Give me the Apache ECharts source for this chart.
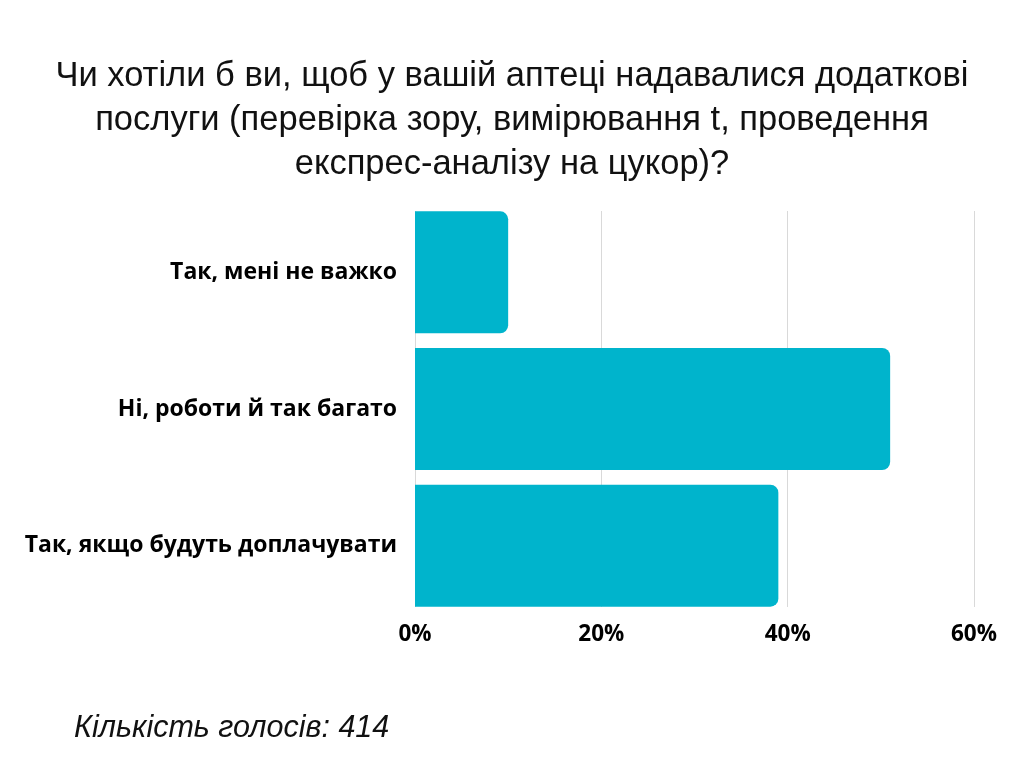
<!DOCTYPE html>
<html>
<head>
<meta charset="utf-8">
<script src="https://cdn.jsdelivr.net/npm/echarts@6/dist/echarts.min.js"></script>
<style>
    html, body { margin: 0; padding: 0; background: #fff; }
    #chart { width: 1024px; height: 768px; }
</style>
</head>
<body>
<div id="chart"></div>
<script>
    // дані з діаграми
    let categories = ['Так, мені не важко', 'Ні, роботи й так багато', 'Так, якщо будуть доплачувати'];
    let values = [10, 51, 39];
    let tickValues = [0, 20, 40, 60];
    let titleText = 'Чи хотіли б ви, щоб у вашій аптеці надавалися додаткові\nпослуги (перевірка зору, вимірювання t, проведення\nекспрес-аналізу на цукор)?';
    let footerText = 'Кількість голосів: 414';

    let chart = echarts.init(document.getElementById('chart'));

    let option = {
        backgroundColor: '#ffffff',
        animation: false,
        graphic: [
            {
                type: 'text',
                x: 512,
                y: 54,
                style: {
                    text: titleText,
                    align: 'center',
                    verticalAlign: 'top',
                    fontFamily: 'Liberation Sans',
                    fontSize: 34.5,
                    lineHeight: 44,
                    fill: '#111111'
                }
            },
            {
                type: 'text',
                x: 74,
                y: 729,
                style: {
                    text: footerText,
                    verticalAlign: 'middle',
                    fontFamily: 'Liberation Sans',
                    fontSize: 30.5,
                    fontStyle: 'italic',
                    fill: '#111111'
                }
            }
        ],
        grid: [
            // сітка для стовпців
            {left: 415, right: 50, top: 204, height: 410},
            // сітка для ліній та підписів осі
            {left: 415, right: 50, top: 211, height: 396}
        ],
        xAxis: [
            {
                type: 'value', gridIndex: 0, min: 0, max: 60,
                show: false
            },
            {
                type: 'value', gridIndex: 1, min: 0, max: 60, interval: 20,
                axisLine: {show: false},
                axisTick: {show: false},
                splitLine: {show: true, lineStyle: {color: '#d9d9d9', width: 1}},
                axisLabel: {
                    formatter: v => tickValues.indexOf(v) >= 0 ? v + '%' : '',
                    margin: 16,
                    fontFamily: 'Open Sans',
                    fontWeight: 'bold',
                    fontSize: 22.5,
                    color: '#000000'
                }
            }
        ],
        yAxis: [
            {
                type: 'category', gridIndex: 0, inverse: true,
                data: categories,
                axisLine: {show: false},
                axisTick: {show: false},
                axisLabel: {
                    margin: 18,
                    fontFamily: 'Open Sans',
                    fontWeight: 'bold',
                    fontSize: 23,
                    color: '#000000'
                }
            },
            {
                type: 'category', gridIndex: 1,
                data: categories,
                show: false
            }
        ],
        series: [{
            type: 'bar',
            xAxisIndex: 0,
            yAxisIndex: 0,
            data: values,
            barWidth: 122,
            itemStyle: {
                color: '#00b4cc',
                borderRadius: [0, 8, 8, 0]
            }
        }]
    };

    chart.setOption(option);
</script>
</body>
</html>
